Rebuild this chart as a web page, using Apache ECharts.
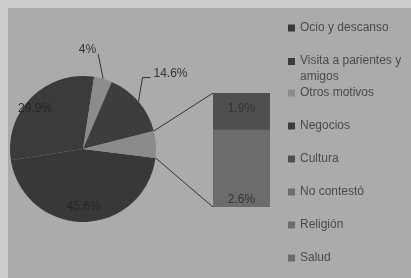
<!DOCTYPE html>
<html lang="es">
<head>
  <meta charset="UTF-8">
  <title>Motivos de viaje</title>
  <style>
    html, body { margin: 0; padding: 0; }
    #main { width: 411px; height: 278px; }
  </style>
</head>
<body>
  <div id="main"></div>
  <script src="https://cdn.jsdelivr.net/npm/echarts@6/dist/echarts.min.js"></script>
  <script>
    // datos (porcentajes)
    var pieNames = ['Ocio y descanso', 'Visita a parientes y amigos', 'Otros motivos', 'Negocios'];
    var pieValues = [45.6, 29.9, 4.0, 14.6];
    var barNames = ['Cultura', 'No contestó', 'Religión', 'Salud'];
    var barValues = [1.9, 0.8, 0.6, 2.6];
    var legendNames = pieNames.concat(barNames);

    var pieColors = ['#383838', '#3b3b3b', '#8c8c8c', '#3d3d3d'];
    var restColor = '#8a8a8a';
    var barColors = ['#4f4f4f', '#6c6c6c', '#6c6c6c', '#6c6c6c'];

    var restValue = 0;
    barValues.forEach(function (v) { restValue += v; });
    restValue = Math.round(restValue * 10) / 10;

    var center = [83, 149];
    var radius = 73;
    var startAngle = -7; // el "resto" queda a la derecha

    var chart = echarts.init(document.getElementById('main'));

    var pieData = pieNames.map(function (n, i) {
      var item = {
        name: n,
        value: pieValues[i],
        itemStyle: { color: pieColors[i] }
      };
      if (i === 0 || i === 1) {
        // casi invisibles en el original (texto oscuro sobre oscuro)
        item.label = {
          show: true, position: 'inside',
          textBorderWidth: 0,
          formatter: '{d|{c}%}',
          rich: { d: { color: '#262626', fontSize: 12, fontFamily: 'Liberation Sans', textBorderWidth: 0 } }
        };
      } else {
        item.label = { show: true, position: 'outside', color: '#333' };
        item.labelLine = { show: true, length: 18, length2: 6, lineStyle: { color: '#333', width: 1 } };
      }
      return item;
    });
    pieData.push({
      name: 'Resto',
      value: restValue,
      itemStyle: { color: restColor },
      label: { show: false },
      labelLine: { show: false }
    });

    // barras apiladas, la primera arriba
    var barSeries = [];
    for (var i = barNames.length - 1; i >= 0; i--) {
      var lbl = { show: false };
      if (i === 0) lbl = { show: true, position: 'inside', offset: [0, -3] };
      if (i === barNames.length - 1) lbl = { show: true, position: 'insideBottom', distance: 1 };
      lbl.formatter = '{c}%';
      lbl.color = '#333';
      lbl.fontSize = 12;
      lbl.fontFamily = 'Liberation Sans';
      barSeries.push({
        name: barNames[i],
        type: 'bar',
        stack: 'resto',
        barWidth: '100%',
        data: [barValues[i]],
        itemStyle: { color: barColors[i] },
        // fondo del mismo gris para que no se vean juntas entre tramos
        showBackground: i === barNames.length - 1,
        backgroundStyle: { color: '#6c6c6c' },
        label: lbl,
        silent: true
      });
    }

    function pieLabelLayout(p) {
      if (p.seriesIndex !== 0) return;
      // etiquetas interiores algo más hacia el borde
      if (p.dataIndex === 0) return { dy: 9 };
      if (p.dataIndex === 1) return { dx: -10, dy: -6 };
      if (!p.labelLinePoints) return;
      // etiquetas exteriores: línea hacia arriba desde el borde del sector
      var p0 = p.labelLinePoints[0];
      if (p.dataIndex === 2) {
        var a = [p0[0] - 5, p0[1] - 25];
        return {
          x: a[0] - 2, y: a[1] - 4, align: 'right', verticalAlign: 'middle',
          labelLinePoints: [p0, a, a]
        };
      }
      if (p.dataIndex === 3) {
        var b = [p0[0] + 4, p0[1] - 24];
        var c = [b[0] + 8, b[1]];
        return {
          x: c[0] + 3, y: c[1] - 4, align: 'left', verticalAlign: 'middle',
          labelLinePoints: [p0, b, c]
        };
      }
    }

    var legendBase = {
      orient: 'vertical',
      left: 288,
      padding: 0,
      itemWidth: 7,
      itemHeight: 7,
      itemGap: 17,
      icon: 'rect',
      textStyle: {
        fontSize: 12,
        color: '#4a4a4a',
        lineHeight: 16,
        rich: {
          a: { fontSize: 12, color: '#4a4a4a', lineHeight: 16 },
          b: { fontSize: 12, color: '#4a4a4a', lineHeight: 1, height: 16, verticalAlign: 'top' }
        }
      },
      formatter: function (name) {
        if (name === 'Visita a parientes y amigos') return '{a|Visita a parientes y}\n{b|amigos}';
        return name;
      }
    };
    // dos bloques: el segundo texto ocupa dos líneas sin desplazar el resto
    var legendTop = Object.assign({}, legendBase, { top: 20, data: legendNames.slice(0, 2) });
    var legendRest = Object.assign({}, legendBase, { top: 85, data: legendNames.slice(2) });

    var option = {
      backgroundColor: '#cdcdcd',
      animation: false,
      textStyle: { fontFamily: 'Liberation Sans' },
      legend: [legendTop, legendRest],
      grid: { left: 213, top: 93, width: 57, height: 114 },
      xAxis: { type: 'category', data: [''], show: false },
      yAxis: { type: 'value', min: 0, max: restValue, show: false },
      series: [{
        type: 'pie',
        center: center,
        radius: radius,
        startAngle: startAngle,
        clockwise: true,
        silent: true,
        label: {
          fontSize: 12,
          fontFamily: 'Liberation Sans',
          formatter: '{c}%'
        },
        labelLayout: pieLabelLayout,
        data: pieData
      }].concat(barSeries)
    };

    chart.setOption(option);

    // líneas de unión entre el sector "resto" y la barra
    var total = restValue;
    pieValues.forEach(function (v) { total += v; });
    var a0 = (90 - startAngle) * Math.PI / 180; // ángulo desde las 12 en sentido horario
    var before = 0;
    pieValues.forEach(function (v) { before += v; });
    var angStart = a0 + before / total * 2 * Math.PI;
    var angEnd = a0 + (before + restValue) / total * 2 * Math.PI;
    function arcPt(a) {
      return [center[0] + radius * Math.sin(a), center[1] - radius * Math.cos(a)];
    }
    var pTop = arcPt(angStart);
    var pBot = arcPt(angEnd);
    var barTop = chart.convertToPixel({ gridIndex: 0 }, [0, restValue]);
    var barBot = chart.convertToPixel({ gridIndex: 0 }, [0, 0]);
    var barLeft = barTop[0] - 57 / 2;

    chart.setOption({
      graphic: [{
        type: 'rect',
        shape: { x: 8, y: 8, width: 411, height: 278 },
        style: { fill: '#ababab' },
        z: -10,
        silent: true
      }, {
        type: 'polyline',
        shape: { points: [pTop, [barLeft, barTop[1]]] },
        style: { stroke: '#333', lineWidth: 1, fill: null },
        z: -1,
        silent: true
      }, {
        type: 'polyline',
        shape: { points: [pBot, [barLeft, barBot[1]]] },
        style: { stroke: '#333', lineWidth: 1, fill: null },
        z: -1,
        silent: true
      }]
    });
  </script>
</body>
</html>
